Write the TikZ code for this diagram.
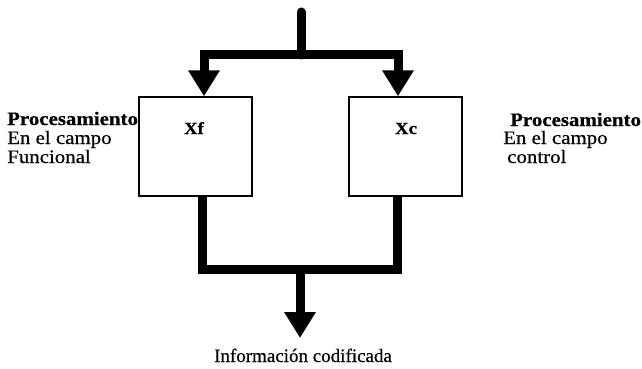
\documentclass[tikz,border=0pt]{standalone}
\usepackage{fontspec}
\setmainfont{Liberation Serif}
\newfontfamily\wserif[FakeStretch=1.1,FakeBold=0.6]{Liberation Serif}
\newfontfamily\infofont[FakeBold=0.5]{Liberation Serif}
\usetikzlibrary{arrows.meta}
\begin{document}
\begin{tikzpicture}[x=1pt,y=-1pt,
  flow/.style={line width=9pt, line join=miter},
  tipflow/.style={flow, -{Triangle[width=30pt,length=26pt]}},
  blk/.style={draw, line width=1.4pt, minimum width=113pt, minimum height=99pt, inner sep=0pt},
  lbl/.style={inner sep=0pt, font=\wserif\fontsize{19}{19}\selectfont},
  boxlbl/.style={inner sep=0pt, font=\wserif\fontsize{17}{19}\selectfont}]
\useasboundingbox (0,0) rectangle (642,369);
% blocks
\node[blk] (xf) at (195.5,146.5) {};
\node[blk] (xc) at (405.5,146.5) {};
\node[boxlbl, anchor=base] (xft) at (194,134) {\bfseries Xf};
\node[boxlbl, anchor=base] (xct) at (406,134) {\bfseries Xc};
% side labels
\node[lbl, anchor=base west] (l1) at (7,125) {\bfseries Procesamiento};
\node[lbl, anchor=base west] (l2) at (7,144) {En el campo};
\node[lbl, anchor=base west] (l3) at (7,163) {Funcional};
\node[lbl, anchor=base west] (r1) at (510,126) {\bfseries Procesamiento};
\node[lbl, anchor=base west] (r2) at (503,144) {En el campo};
\node[lbl, anchor=base west] (r3) at (507,163) {control};
% top distribution
\coordinate (in) at (301,12);
\coordinate (j1) at (301,55);
\coordinate (cl) at (204,55);
\coordinate (cr) at (398,55);
\draw[flow, line cap=round] (in) -- (j1);
\draw[tipflow] (j1) -- (cl) -- (cl |- xf.north);
\draw[tipflow] (j1) -- (cr) -- (cr |- xc.north);
% bottom merge
\coordinate (bl) at (202,269);
\coordinate (br) at (397,269);
\coordinate (j2) at (300,269);
\coordinate (out) at (300,338);
\draw[flow] (bl |- xf.south) -- (bl) -- (br) -- (br |- xc.south);
\draw[tipflow] (j2) -- (out);
\node[inner sep=0pt, anchor=base, font=\infofont\fontsize{19}{19}\selectfont] (info) at (303,362) {Información codificada};
\end{tikzpicture}
\end{document}
